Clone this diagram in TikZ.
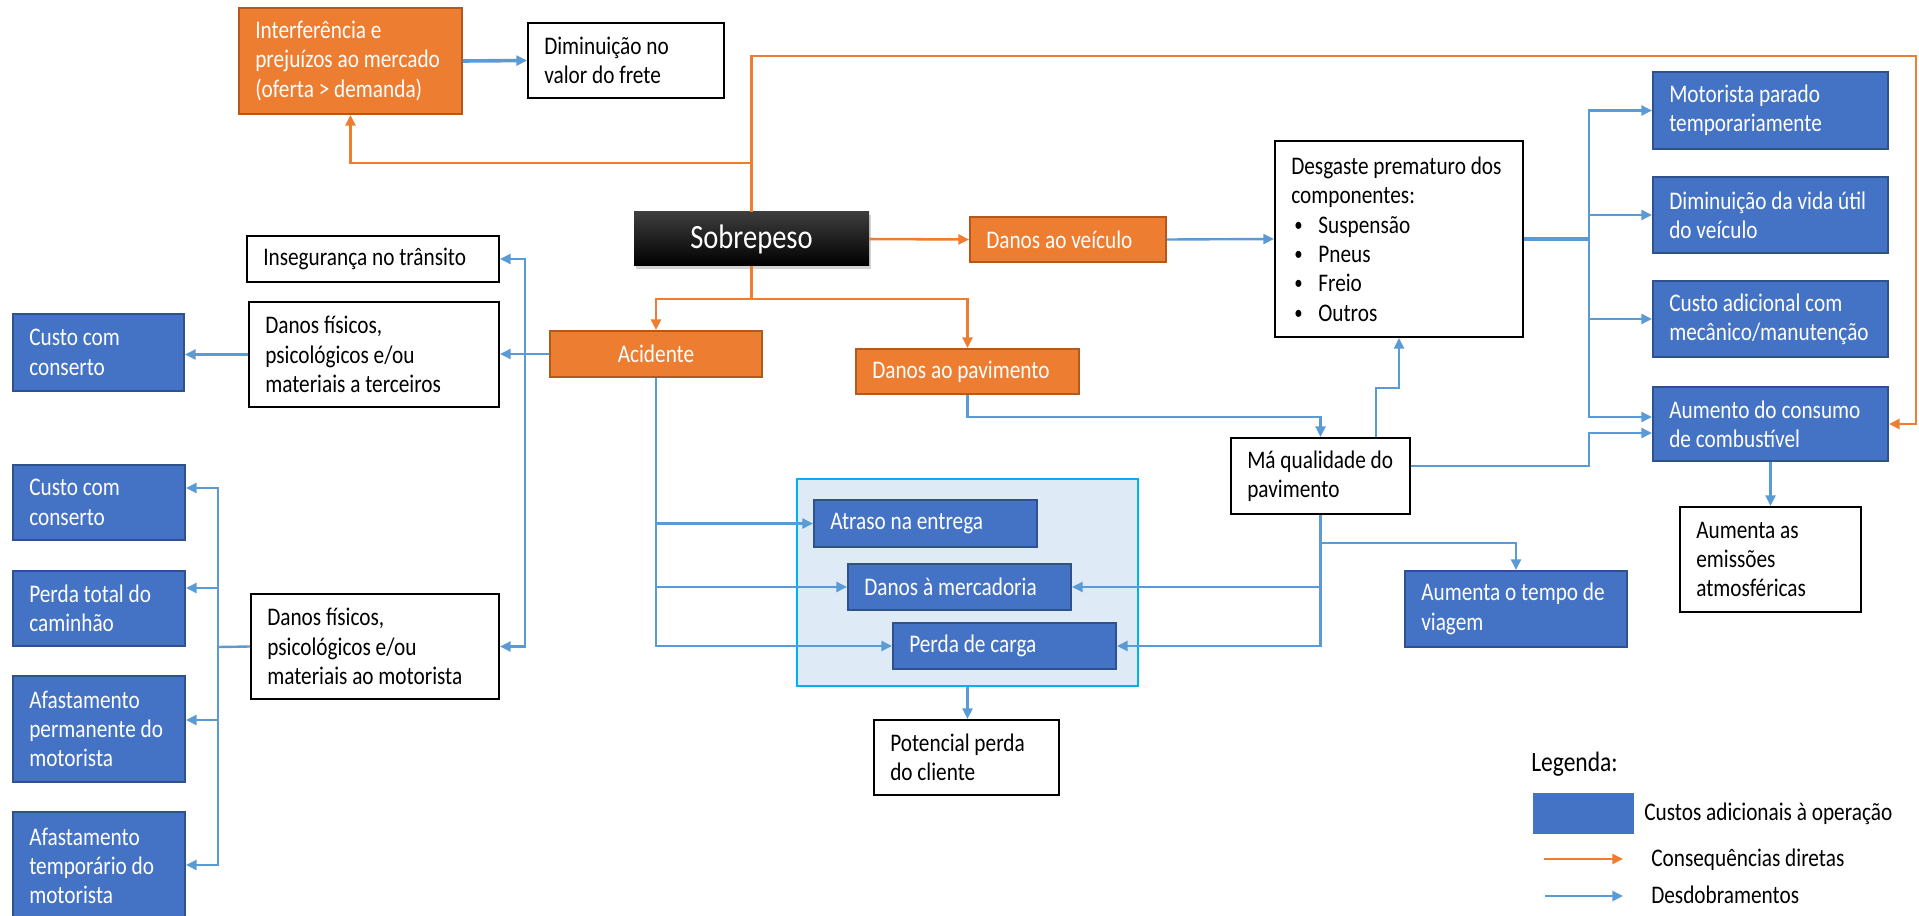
\documentclass[tikz,border=0pt]{standalone}
\usepackage{fontspec}
\setmainfont{Carlito}[FakeStretch=0.84]
\usetikzlibrary{arrows.meta,shadows,calc}
\definecolor{oran}{HTML}{ED7D31}
\definecolor{oranD}{HTML}{B4581E}
\definecolor{blu}{HTML}{4472C4}
\definecolor{bluD}{HTML}{2F528F}
\definecolor{lnb}{HTML}{5B9BD5}
\definecolor{contf}{HTML}{DEEBF7}
\definecolor{contb}{HTML}{00B0F0}
\tikzset{
 obox/.style={draw=oranD, fill=oran, line width=1.5pt, inner sep=0pt},
 oboxt/.style={text=white},
 bbox/.style={draw=bluD, fill=blu, line width=1.5pt, inner sep=0pt},
 bboxt/.style={text=white},
 wbox/.style={draw=black, fill=white, line width=1.5pt, inner sep=0pt},
 wboxt/.style={text=black},
 txt/.style={inner sep=0pt, align=left, font=\fontsize{19}{22}\selectfont},
 barrow/.style={draw=lnb, line width=1.8pt, -{Triangle[length=8pt,width=7.5pt]}},
 bline/.style={draw=lnb, line width=1.8pt},
 oarrow/.style={draw=oran, line width=1.9pt, -{Triangle[length=8pt,width=7.5pt]}},
 oline/.style={draw=oran, line width=1.9pt},
}
\newcommand\mkbox[7]{%
  \pgfmathsetmacro\bw{(#5-#3)*0.75}%
  \pgfmathsetmacro\bh{(#6-#4)*0.75}%
  \node[#1, minimum width=\bw pt, minimum height=\bh pt] (#2) at ({(#3+#5)/2},{(#4+#6)/2}) {};
  \node[txt, #1t, anchor=west] (#2-t) at ({#3+16},{(#4+#6)/2}) {#7};
}
\newcommand\bul{\hspace*{2.3pt}\makebox[18pt][l]{\raisebox{1.3pt}{\fontsize{15}{15}\selectfont\textbullet}}}
\begin{document}
\begin{tikzpicture}[x=0.75pt,y=-0.75pt]
\useasboundingbox (0,0) rectangle (1919,916);
% container
\node[draw=contb, fill=contf, line width=1.5pt, minimum width=255.75pt, minimum height=155.25pt, inner sep=0pt] (cont) at (967.5,582.5) {};
% boxes
\mkbox{obox}{intf}{239}{8}{462}{114}{Interferência e\\prejuízos ao mercado\\(oferta > demanda)}
\mkbox{wbox}{dimfrete}{528}{23}{724}{98}{Diminuição no\\valor do frete}
\node[top color=black!76, middle color=black, bottom color=black,
      drop shadow={shadow xshift=1.5pt, shadow yshift=-2.5pt, opacity=0.35},
      minimum width=176.25pt, minimum height=40.5pt, inner sep=0pt, text=white,
      font=\fontsize{25.5}{30}\selectfont] (sobre) at (751.5,239) {Sobrepeso};
\mkbox{obox}{dveic}{970}{217}{1166}{262}{Danos ao veículo}
\mkbox{wbox}{desg}{1275}{141}{1523}{337}{Desgaste prematuro dos\\componentes:\\\bul Suspensão\\\bul Pneus\\\bul Freio\\\bul Outros}
\mkbox{bbox}{motp}{1653}{72}{1888}{149}{Motorista parado\\temporariamente}
\mkbox{bbox}{vida}{1653}{177}{1888}{253}{Diminuição da vida útil\\do veículo}
\mkbox{bbox}{custoad}{1653}{281}{1888}{357}{Custo adicional com\\mecânico/manutenção}
\mkbox{bbox}{consumo}{1653}{387}{1888}{461}{Aumento do consumo\\de combustível}
\mkbox{wbox}{emis}{1680}{507}{1861}{612}{Aumenta as\\emissões\\atmosféricas}
\mkbox{wbox}{inseg}{247}{236}{499}{282}{Insegurança no trânsito}
\mkbox{wbox}{terc}{249}{302}{499}{407}{Danos físicos,\\psicológicos e/ou\\materiais a terceiros}
\mkbox{bbox}{custo1}{13}{314}{184}{391}{Custo com\\conserto}
\node[obox, minimum width=159pt, minimum height=34.5pt, text=white, font=\fontsize{19}{22}\selectfont] (acid) at (656,354) {Acidente};
\mkbox{obox}{dpav}{856}{349}{1079}{394}{Danos ao pavimento}
\mkbox{wbox}{maq}{1231}{438}{1410}{514}{Má qualidade do\\pavimento}
\mkbox{bbox}{atraso}{814}{500}{1037}{547}{Atraso na entrega}
\mkbox{bbox}{merc}{848}{564}{1071}{610}{Danos à mercadoria}
\mkbox{bbox}{perda}{893}{623}{1116}{669}{Perda de carga}
\mkbox{wbox}{pot}{874}{720}{1059}{795}{Potencial perda\\do cliente}
\mkbox{bbox}{tempo}{1405}{571}{1627}{647}{Aumenta o tempo de\\viagem}
\mkbox{bbox}{custo2}{13}{465}{185}{540}{Custo com\\conserto}
\mkbox{bbox}{ptotal}{13}{571}{185}{646}{Perda total do\\caminhão}
\mkbox{bbox}{aperm}{13}{676}{185}{782}{Afastamento\\permanente do\\motorista}
\mkbox{bbox}{atemp}{13}{812}{185}{920}{Afastamento\\temporário do\\motorista}
\mkbox{wbox}{motor}{251}{594}{499}{699}{Danos físicos,\\psicológicos e/ou\\materiais ao motorista}
% helper coordinates
\coordinate (oTR) at (1916,56);
\coordinate (oJ1) at (751.5,163);
\coordinate (oJ2) at (751.5,299);
\coordinate (bJ1) at (1589,239);
\coordinate (bY417) at (1600,417);
\coordinate (bY466) at (0,466);
\coordinate (bJ2) at (1589,466);
\coordinate (bY433) at (0,433);
\coordinate (bX1376) at (1376,0);
\coordinate (bY388) at (0,388);
\coordinate (bY543) at (0,543);
\coordinate (bJ4) at (525,354);
\coordinate (bJ5) at (218,647);
\coordinate (a488) at (0,488);
\coordinate (a588) at (0,588);
\coordinate (a720) at (0,720);
\coordinate (a865) at (0,865);
% orange connectors
\draw[oarrow] (sobre.north) |- (oTR) |- (consumo.east);
\draw[oarrow] (oJ1) -| (intf.south);
\draw[oarrow] (sobre.east) -- (dveic.west);
\draw[oline] (sobre.south) -- (oJ2);
\draw[oarrow] (oJ2) -| (acid.north);
\draw[oarrow] (oJ2) -| (dpav.north);
% blue connectors
\draw[barrow, line width=2.7pt] (intf.east) -- (dimfrete.west);
\draw[barrow] (dveic.east) -- (desg.west);
\draw[bline, line width=2.9pt] (desg.east) -- (bJ1);
\draw[barrow] (bJ1) |- (motp.west);
\draw[barrow] (bJ1) |- (vida.west);
\draw[barrow] (bJ1) |- (custoad.west);
\draw[barrow] (bJ1) |- (consumo.west |- bY417);
\draw[barrow] (maq.east |- bY466) -- (bJ2) |- (consumo.west |- bY433);
\draw[barrow] (dpav.south) -- (dpav.south |- bY417) -| (maq.north);
\draw[barrow] (maq.north -| bX1376) |- (bY388 -| desg.south) -- (desg.south);
\draw[barrow] (maq.south) |- (perda.east);
\draw[barrow] (maq.south |- merc.east) -- (merc.east);
\draw[barrow] (maq.south |- bY543) -| (tempo.north);
\draw[barrow] (consumo.south) -- (emis.north);
\draw[barrow] (acid.south) |- (perda.west);
\draw[barrow] (acid.south |- atraso.west) -- (atraso.west);
\draw[barrow] (acid.south |- merc.west) -- (merc.west);
\draw[barrow] (cont.south) -- (cont.south |- pot.north);
\draw[barrow] (acid.west) -- (acid.west -| terc.east);
\draw[barrow] (bJ4) |- (inseg.east);
\draw[barrow] (bJ4) |- (motor.east);
\draw[barrow] (terc.west) -- (terc.west -| custo1.east);
\draw[bline] (motor.west) -- (bJ5);
\draw[barrow] (bJ5) |- (custo2.east |- a488);
\draw[barrow] (bJ5) |- (ptotal.east |- a588);
\draw[barrow] (bJ5) |- (aperm.east |- a720);
\draw[barrow] (bJ5) |- (atemp.east |- a865);
% legend
\node[txt, anchor=west, font=\fontsize{21}{24}\selectfont] (leg) at (1531,764) {Legenda:};
\node[fill=blu, minimum width=75.75pt, minimum height=30.75pt, inner sep=0pt] (legbox) at (1583.5,813.5) {};
\node[txt, anchor=west] (legt1) at (1644,814) {Custos adicionais à operação};
\coordinate (lo1) at (1544,859);
\coordinate (lo2) at (1623,859);
\draw[oarrow] (lo1) -- (lo2);
\node[txt, anchor=west] (legt2) at (1651,860) {Consequências diretas};
\coordinate (lb1) at (1545,896);
\coordinate (lb2) at (1623,896);
\draw[barrow] (lb1) -- (lb2);
\node[txt, anchor=west] (legt3) at (1651,895) {Desdobramentos};
\end{tikzpicture}
\end{document}
